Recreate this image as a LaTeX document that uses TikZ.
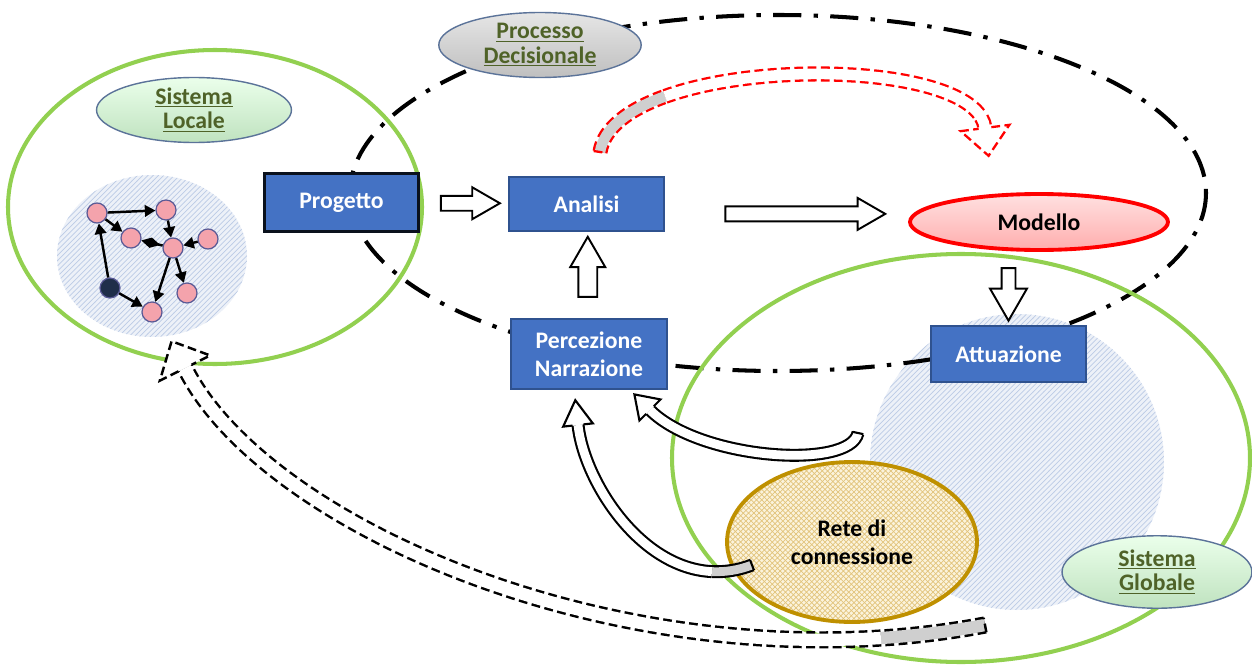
\documentclass[tikz,border=0pt]{standalone}
\usepackage{fontspec}
\setmainfont{Carlito}
\usepackage{tikz}
\usetikzlibrary{arrows.meta,calc,positioning,patterns,shapes.geometric,shapes.arrows}
\definecolor{boxblue}{HTML}{4472C4}
\definecolor{boxline}{HTML}{2F528F}
\definecolor{sysgreen}{HTML}{92D050}
\definecolor{labelgreen}{HTML}{4F6228}
\definecolor{labeledge}{HTML}{5B7399}
\definecolor{hatchblue}{HTML}{BCCBE6}
\definecolor{hatchfill}{HTML}{EDF1F8}
\definecolor{retegold}{HTML}{BF9000}
\definecolor{retefill}{HTML}{FBF3DC}
\definecolor{retehatch}{HTML}{E2C47C}
\definecolor{tailgrey}{HTML}{CFCFCF}
\definecolor{nodepink}{HTML}{F4A3AC}
\definecolor{nodeedge}{HTML}{5A5A96}
\definecolor{darknode}{HTML}{1F2E4A}
% head and tail of a curved block arrow
\newcommand{\bhead}[5]{\draw[#1] ($(#2)!#4!90:(#3)$) -- ($(#2)!#5!90:(#3)$) -- (#3) -- ($(#2)!#5!-90:(#3)$) -- ($(#2)!#4!-90:(#3)$);}
\newcommand{\btail}[4]{\draw[#1] ($(#2)!#4!90:(#3)$) -- ($(#2)!#4!-90:(#3)$);}

\begin{document}
\begin{tikzpicture}[x=0.02cm,y=-0.02cm,>=Latex,
  txt/.style={font=\bfseries\fontsize{13.5}{16}\selectfont},
  bluebox/.style={txt,rectangle,draw=boxline,line width=1.4pt,fill=boxblue,text=white,align=center,inner sep=0pt,minimum width=3.1cm},
  tag/.style={txt,ellipse,draw=labeledge,line width=0.8pt,text=labelgreen,align=center,inner sep=0pt},
  pt/.style={circle,draw=nodeedge,line width=0.7pt,fill=nodepink,minimum size=0.4cm,inner sep=0pt},
  gedge/.style={line width=1.4pt,-{Triangle[length=6pt,width=6.5pt]}},
  blockarrow/.style={single arrow,draw=black,fill=white,line width=1.1pt,inner xsep=0pt,inner ysep=0.13cm,
    single arrow head extend=0.17cm,single arrow tip angle=60,minimum height=#1},
  dashdot/.style={line width=2.3pt,dash pattern=on 16pt off 7pt on 2.5pt off 7pt},
  redline/.style={draw=red,line width=1.3pt,dash pattern=on 5pt off 2.5pt},
  redout/.style={draw=red,line width=8.6pt,dash pattern=on 5pt off 2.5pt},
  blackline/.style={draw=black,line width=1.4pt,dash pattern=on 5pt off 2.5pt},
  blackout/.style={draw=black,line width=9.8pt,dash pattern=on 5pt off 2.5pt},
  solidline/.style={draw=black,line width=1.2pt},
  solidshaft/.style={solidline,double=white,double distance=5pt}]
  \useasboundingbox (0,0) rectangle (1252,666);

  % hatched areas
  \fill[hatchfill] (152,256) ellipse [x radius=95, y radius=81];
  \fill[pattern=north east lines,pattern color=hatchblue] (152,256) ellipse [x radius=95, y radius=81];
  \fill[hatchfill] (1017,462) ellipse [x radius=147, y radius=148];
  \fill[pattern=north east lines,pattern color=hatchblue] (1017,462) ellipse [x radius=147, y radius=148];

  % decision process
  \draw[dashdot] (778,193) ellipse [x radius=428, y radius=178];

  \node[txt,ellipse,draw=retegold,line width=2.2pt,align=center,minimum width=5cm,minimum height=3.2cm,
    preaction={fill=retefill},pattern=crosshatch,pattern color=retehatch] (rete) at (852,542) {Rete di\\connessione};

  % local and global systems
  \draw[sysgreen,line width=2.3pt] (215,207) ellipse [x radius=207, y radius=157];
  \draw[sysgreen,line width=2.3pt] (961,458) ellipse [x radius=289, y radius=204];

  % local network
  \foreach \n/\x/\y in {n1/97/213,n2/166/210,n3/131/238,n4/173/248,n5/208/239,n7/187/293,n8/152/312}
    \node[pt] (\n) at (\x,\y) {};
  \node[pt,fill=darknode] (n6) at (110,288) {};
  \foreach \a/\b in {n1/n2,n1/n3,n2/n4,n5/n4,n4/n7,n4/n8,n6/n1,n6/n8}
    \draw[gedge] (\a) -- (\b);
  \draw[line width=1.4pt,-{Diamond[length=11pt,width=6pt]}] (n4) -- (n3);

  % boxes
  \node[bluebox,draw=black!85!boxblue,line width=1.8pt,minimum width=3.08cm,minimum height=1.16cm] (prog) at (341.5,202.5) {Progetto};
  \node[bluebox,minimum height=1.08cm] (anal) at (586.5,204) {Analisi};
  \node[bluebox,minimum width=3.12cm,minimum height=1.4cm] (perc) at (589,354) {Percezione\\Narrazione};
  \node[bluebox,minimum height=1.12cm] (attu) at (1008.5,354) {Attuazione};
  \node[txt,ellipse,draw=red,line width=2.2pt,top color=red!12,bottom color=red!32,
    minimum width=5.16cm,minimum height=1.12cm] (modello) at (1039,222) {Modello};

  % labels
  \node[tag,top color=green!8!white,bottom color=green!55!black!25,minimum width=3.9cm,minimum height=1.3cm] (lbLoc) at (194,110)
    {\underline{Sistema}\\[-2pt]\underline{Locale}};
  \node[tag,top color=black!10,bottom color=black!25,minimum width=4.05cm,minimum height=1.3cm] (lbDec) at (540,45)
    {\underline{Processo}\\[-2pt]\underline{Decisionale}};
  \node[tag,top color=green!8!white,bottom color=green!55!black!25,minimum width=3.8cm,minimum height=1.45cm] (lbGlob) at (1157,572)
    {\underline{Sistema}\\[-2pt]\underline{Globale}};

  % straight block arrows
  \node[blockarrow=1.18cm] (a1) at ($(prog.east)!0.5!(anal.west)$) {};
  \node[blockarrow=3.2cm] (a2) at ($(anal.east)!0.55!(modello.west)$) {};
  \node[blockarrow=1.2cm,rotate=90,inner ysep=0.17cm,single arrow head extend=0.16cm] (a3) at ($(perc.north)!0.5!(anal.south)$) {};
  \node[blockarrow=1.05cm,rotate=-90,inner ysep=0.12cm,single arrow head extend=0.23cm] (a4)
    at ($(attu.north)!0.5!(attu.north |- modello.south)$) {};

  % red dashed arrow
  \coordinate (rd0) at (600,152);
  \coordinate (rd1) at (665.1,96.4);
  \coordinate (rd2) at (985,128);
  \coordinate (rdt) at (988.6,155.8);
  \draw[redout] (rd0) .. controls (603.8,127.8) and (629.1,109.3) .. (rd1);
  \draw[redout] (rd1) .. controls (773.1,57.7) and (977.5,69.5) .. (rd2);
  \draw[tailgrey,line width=6pt] (rd0) .. controls (603.8,127.8) and (629.1,109.3) .. (rd1);
  \draw[white,line width=6pt] (rd1) .. controls (773.1,57.7) and (977.5,69.5) .. (rd2);
  \btail{redline}{rd0}{603.8,127.8}{3.65pt}
  \bhead{redline,fill=white}{rd2}{rdt}{3.65pt}{14pt}

  % black dashed arrow
  \coordinate (kd0) at (985,625);
  \coordinate (kd1) at (880.9,638);
  \coordinate (kd2) at (185,368);
  \coordinate (kdt) at (171.6,341.2);
  \draw[blackout] (kd0) .. controls (950.5,631.5) and (915.7,635.8) .. (kd1);
  \draw[blackout] (kd1) .. controls (568.1,658) and (257.9,513.8) .. (kd2);
  \draw[tailgrey,line width=7pt] (kd0) .. controls (950.5,631.5) and (915.7,635.8) .. (kd1);
  \draw[white,line width=7pt] (kd1) .. controls (568.1,658) and (257.9,513.8) .. (kd2);
  \btail{blackline}{kd0}{950.5,631.5}{4.2pt}
  \bhead{blackline,fill=white}{kd2}{kdt}{4.2pt}{16pt}

  % curved arrows to perception
  \coordinate (sa0) at (858,433);
  \coordinate (sa1) at (650,410);
  \coordinate (sat) at (634.4,394.4);
  \draw[solidshaft] (sa0) .. controls (850,470) and (700,460) .. (sa1);
  \btail{solidline}{sa0}{850,470}{3.1pt}
  \bhead{solidline,fill=white}{sa1}{sat}{3.1pt}{8.5pt}

  \coordinate (sb0) at (752,565);
  \coordinate (sb1) at (711.9,571.6);
  \coordinate (sb2) at (578,425);
  \coordinate (sbt) at (575.3,400.2);
  \draw[solidshaft,double=tailgrey] (sb0) .. controls (738.2,570.3) and (724.8,572.2) .. (sb1);
  \draw[solidshaft] (sb1) .. controls (639,568) and (584,480.3) .. (sb2);
  \btail{solidline}{sb0}{738.2,570.3}{3.1pt}
  \bhead{solidline,fill=white}{sb2}{sbt}{3.1pt}{8.5pt}
\end{tikzpicture}
\end{document}
